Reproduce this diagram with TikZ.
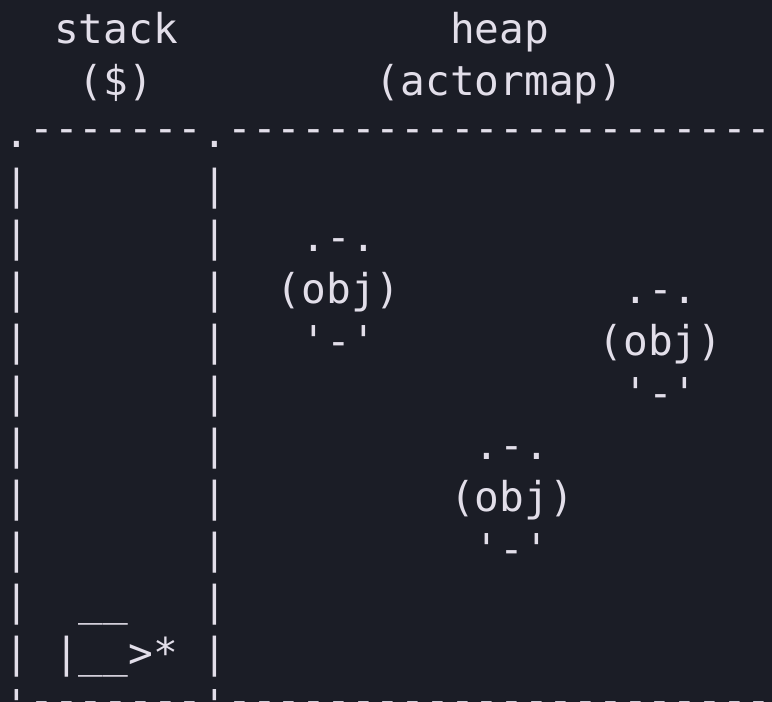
\documentclass[tikz,border=0pt]{standalone}
\usepackage{fontspec}
\setmonofont{DejaVu Sans Mono}
\usepackage{tikz}
\definecolor{bgdark}{HTML}{1B1D26}
\definecolor{asciifg}{HTML}{E2DEE9}
\tikzset{
  glyphs/.style={anchor=base west, inner sep=0pt, outer sep=0pt, text=asciifg, font=\ttfamily\fontsize{41.1pt}{52pt}\selectfont},
  rule/.style={glyphs, yshift=5pt}
}

\begin{document}
\begin{tikzpicture}[x=24.75pt, y=-52pt]
\useasboundingbox (-4.6pt,43pt) rectangle (767.4pt,-659pt);
\fill[bgdark] (-4.6pt,43pt) rectangle (767.4pt,-659pt);
\clip (-4.6pt,43pt) rectangle (767.4pt,-659pt);
% column heads
\node[glyphs] (stack) at (2,0) {stack};
\node[glyphs] (stackvar) at (3,1) {(\$)};
\node[glyphs] (heap) at (18,0) {heap};
\node[glyphs] (heapvar) at (15,1) {(actormap)};
% frame
\node[glyphs] (tl) at (0,2) {.};
\node[glyphs] (tm) at (8,2) {.};
\node[rule] (topstack) at (1,2) {-------};
\node[rule] (topheap) at (9,2) {----------------------};
\foreach \r in {3,...,12}{
  \node[glyphs] (lbar\r) at (0,\r) {|};
  \node[glyphs] (rbar\r) at (8,\r) {|};
}
\node[glyphs] (bl) at (0,13) {'};
\node[glyphs] (bm) at (8,13) {'};
\node[rule] (botstack) at (1,13) {-------};
\node[rule] (botheap) at (9,13) {----------------------};
% objects in the heap
\node[glyphs] (obj1top) at (12,4) {.-.};
\node[glyphs] (obj1) at (11,5) {(obj)};
\node[glyphs] (obj1bot) at (12,6) {'-'};
\node[glyphs] (obj2top) at (25,5) {.-.};
\node[glyphs] (obj2) at (24,6) {(obj)};
\node[glyphs] (obj2bot) at (25,7) {'-'};
\node[glyphs] (obj3top) at (19,8) {.-.};
\node[glyphs] (obj3) at (18,9) {(obj)};
\node[glyphs] (obj3bot) at (19,10) {'-'};
% stack frame pointer
\node[glyphs] (ptrtop) at (3,11) {\_\_};
\node[glyphs] (ptr) at (2,12) {|\_\_>*};
\end{tikzpicture}
\end{document}
